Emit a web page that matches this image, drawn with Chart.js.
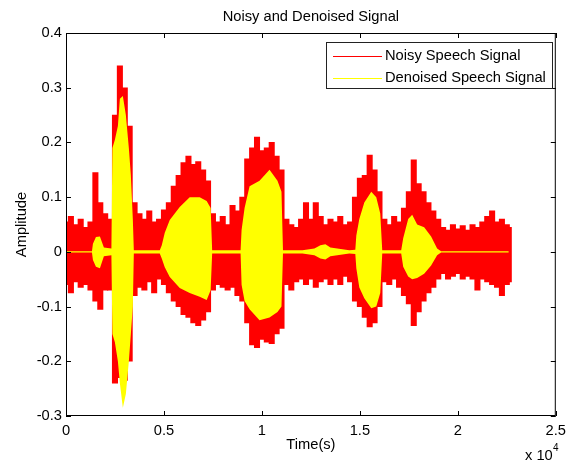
<!DOCTYPE html>
<html lang="en">
<head>
<meta charset="UTF-8">
<title>Noisy and Denoised Signal</title>
<script src="https://cdn.jsdelivr.net/npm/chart.js@4.4.0/dist/chart.umd.min.js"></script>
<style>
    html, body { margin: 0; padding: 0; background: #fff; }
    #wrap { width: 572px; height: 464px; }
</style>
</head>
<body>
<div id="wrap"><canvas id="myChart" width="572" height="464"></canvas></div>

<script>
// noisy speech: one column every 250 samples, last one = end of signal
var noisyIdx = [
    0, 250, 500, 750, 1000, 1250, 1500, 1750, 2000, 2250,
    2500, 2750, 3000, 3250, 3500, 3750, 4000, 4250, 4500, 4750,
    5000, 5250, 5500, 5750, 6000, 6250, 6500, 6750, 7000, 7250,
    7500, 7750, 8000, 8250, 8500, 8750, 9000, 9250, 9500, 9750,
    10000, 10250, 10500, 10750, 11000, 11250, 11500, 11750, 12000, 12250,
    12500, 12750, 13000, 13250, 13500, 13750, 14000, 14250, 14500, 14750,
    15000, 15250, 15500, 15750, 16000, 16250, 16500, 16750, 17000, 17250,
    17500, 17750, 18000, 18250, 18500, 18750, 19000, 19250, 19500, 19750,
    20000, 20250, 20500, 20750, 21000, 21250, 21500, 21750, 22000, 22250,
    22500, 22600
];
// upper / lower envelope
var noisyHigh = [
    0.055, 0.065, 0.05, 0.06, 0.045, 0.055, 0.145, 0.09, 0.07, 0.06,
    0.25, 0.34, 0.30, 0.23, 0.09, 0.07, 0.06, 0.075, 0.055, 0.06,
    0.077, 0.09, 0.12, 0.14, 0.163, 0.175, 0.16, 0.165, 0.15, 0.13,
    0.07, 0.055, 0.065, 0.05, 0.085, 0.075, 0.1, 0.17, 0.19, 0.21,
    0.185, 0.19, 0.2, 0.175, 0.15, 0.06, 0.05, 0.045, 0.06, 0.09,
    0.06, 0.09, 0.065, 0.05, 0.06, 0.055, 0.065, 0.05, 0.055, 0.1,
    0.135, 0.14, 0.177, 0.15, 0.11, 0.06, 0.05, 0.065, 0.055, 0.08,
    0.11, 0.168, 0.125, 0.11, 0.09, 0.075, 0.06, 0.045, 0.04, 0.05,
    0.042, 0.048, 0.04, 0.05, 0.045, 0.055, 0.065, 0.075, 0.055, 0.06,
    0.05, 0.045
];
var noisyLow = [
    -0.06, -0.075, -0.055, -0.065, -0.06, -0.07, -0.09, -0.105, -0.07, -0.07,
    -0.24, -0.23, -0.235, -0.2, -0.08, -0.065, -0.07, -0.055, -0.075, -0.05,
    -0.06, -0.075, -0.09, -0.1, -0.115, -0.12, -0.13, -0.135, -0.125, -0.11,
    -0.07, -0.06, -0.065, -0.07, -0.065, -0.08, -0.09, -0.13, -0.17, -0.175,
    -0.16, -0.165, -0.168, -0.15, -0.14, -0.06, -0.07, -0.055, -0.05, -0.06,
    -0.05, -0.065, -0.055, -0.05, -0.06, -0.05, -0.06, -0.045, -0.055, -0.09,
    -0.1, -0.12, -0.137, -0.13, -0.1, -0.055, -0.06, -0.05, -0.065, -0.08,
    -0.095, -0.135, -0.11, -0.09, -0.075, -0.065, -0.05, -0.04, -0.05, -0.045,
    -0.04, -0.05, -0.045, -0.05, -0.07, -0.05, -0.055, -0.06, -0.065, -0.08,
    -0.06, -0.055
];

// denoised speech: envelope points, denser where the bursts start and stop
var denoisedIdx = [
    0, 1324, 1375, 1528, 1731, 1935, 2317, 2368, 2495, 2648,
    2750, 2902, 3055, 3208, 3310, 3411, 3462, 4786, 4888, 5041,
    5296, 5805, 6314, 6823, 7180, 7383, 7460, 8911, 8962, 9115,
    9370, 9879, 10388, 10795, 10999, 11075, 12068, 12679, 12985, 13240,
    13494, 14461, 14767, 14818, 14971, 15226, 15582, 15837, 16040, 16142,
    17109, 17211, 17466, 17670, 17924, 18281, 18637, 18943, 19146, 22600
];
var denoisedHigh = [
    0.001, 0.001, 0.015, 0.027, 0.028, 0.008, 0.006, 0.19, 0.205, 0.23,
    0.28, 0.285, 0.25, 0.19, 0.14, 0.06, 0.003, 0.003, 0.012, 0.035,
    0.058, 0.082, 0.1, 0.1, 0.093, 0.08, 0.003, 0.003, 0.04, 0.08,
    0.12, 0.13, 0.15, 0.13, 0.11, 0.003, 0.003, 0.006, 0.012, 0.014,
    0.008, 0.003, 0.004, 0.03, 0.06, 0.09, 0.11, 0.1, 0.07, 0.003,
    0.003, 0.025, 0.06, 0.068, 0.05, 0.045, 0.028, 0.006, 0.001, 0.001
];
var denoisedLow = [
    -0.001, -0.001, -0.015, -0.027, -0.03, -0.008, -0.006, -0.15, -0.165, -0.2,
    -0.24, -0.285, -0.26, -0.2, -0.15, -0.1, -0.003, -0.003, -0.012, -0.028,
    -0.046, -0.066, -0.075, -0.082, -0.088, -0.07, -0.003, -0.003, -0.06, -0.09,
    -0.105, -0.125, -0.12, -0.11, -0.1, -0.003, -0.003, -0.006, -0.012, -0.014,
    -0.008, -0.003, -0.004, -0.03, -0.065, -0.085, -0.103, -0.1, -0.075, -0.003,
    -0.003, -0.027, -0.045, -0.05, -0.048, -0.04, -0.025, -0.006, -0.001, -0.001
];

var xTicks = [0, 5000, 10000, 15000, 20000, 25000];
var yTicks = [-0.3, -0.2, -0.1, 0, 0.1, 0.2, 0.3, 0.4];
var seriesNames = ['Noisy Speech Signal', 'Denoised Speech Signal'];
var seriesColors = ['#ff0000', '#ffff00'];

var fontFam = "'Liberation Sans', Arial, sans-serif";
var fontSize = 14.7;

function pts(idx, vals) {
    return idx.map(function (s, i) { return {x: s, y: vals[i]}; });
}

// frame, inward ticks, title, exponent label and legend box (matlab style)
var matlabAxes = {
    id: 'matlabAxes',
    afterDatasetsDraw: function (chart) {
        var c = chart.ctx, a = chart.chartArea;
        var xs = chart.scales.x, ys = chart.scales.y;
        c.save();
        c.strokeStyle = '#000';
        c.lineWidth = 1;
        c.strokeRect(a.left + 0.5, a.top + 0.5, a.right - a.left - 1, a.bottom - a.top - 1);
        c.beginPath();
        xTicks.forEach(function (v) {
            var px = Math.round(xs.getPixelForValue(v)) + 0.5;
            c.moveTo(px, a.bottom); c.lineTo(px, a.bottom - 5);
            c.moveTo(px, a.top); c.lineTo(px, a.top + 5);
        });
        yTicks.forEach(function (v) {
            var py = Math.round(ys.getPixelForValue(v)) + 0.5;
            c.moveTo(a.left, py); c.lineTo(a.left + 5, py);
            c.moveTo(a.right, py); c.lineTo(a.right - 5, py);
        });
        c.stroke();

        // title
        c.fillStyle = '#000';
        c.font = fontSize + 'px ' + fontFam;
        c.textAlign = 'center';
        c.textBaseline = 'middle';
        c.fillText('Noisy and Denoised Signal', (a.left + a.right) / 2, 17);

        // x 10^4
        c.textAlign = 'left';
        c.fillText('x 10', 525, 456);
        c.font = '10px ' + fontFam;
        c.fillText('4', 553, 448);

        // legend
        var lx = 326, ly = 42, lw = 226, lh = 46;
        c.fillStyle = '#fff';
        c.fillRect(lx, ly, lw, lh);
        c.strokeStyle = '#222';
        c.strokeRect(lx + 0.5, ly + 0.5, lw, lh);
        c.font = fontSize + 'px ' + fontFam;
        c.textBaseline = 'middle';
        seriesNames.forEach(function (name, i) {
            var yy = 56 + i * 22;
            c.strokeStyle = seriesColors[i];
            c.beginPath();
            c.moveTo(333, yy + 0.5); c.lineTo(382, yy + 0.5);
            c.stroke();
            c.fillStyle = '#000';
            c.fillText(name, 385, yy);
        });
        c.restore();
    }
};

var ctx = document.getElementById('myChart').getContext('2d');
var myChart = new Chart(ctx, {
    type: 'line',
    data: {
        datasets: [{
            // noisy signal: one floating bar per column, low..high
            type: 'bar',
            label: seriesNames[0],
            data: noisyIdx.map(function (s, i) { return {x: s, y: [noisyLow[i], noisyHigh[i]]}; }),
            backgroundColor: seriesColors[0],
            borderWidth: 0,
            barThickness: 5.4,
            order: 2
        }, {
            label: seriesNames[1],
            data: pts(denoisedIdx, denoisedHigh),
            borderColor: seriesColors[1],
            backgroundColor: seriesColors[1],
            borderWidth: 0,
            fill: 2,
            order: 1
        }, {
            label: seriesNames[1] + ' (low)',
            data: pts(denoisedIdx, denoisedLow),
            borderColor: seriesColors[1],
            borderWidth: 0,
            fill: false,
            order: 1
        }]
    },
    options: {
        responsive: false,
        animation: false,
        elements: { point: { radius: 0 }, line: { tension: 0 } },
        layout: { padding: { left: 0, right: 14, top: 33, bottom: 0 } },
        plugins: {
            legend: { display: false },
            tooltip: { enabled: false }
        },
        scales: {
            x: {
                type: 'linear',
                min: 0,
                max: 25000,
                offset: false,
                grid: { display: false, drawTicks: false },
                border: { display: false },
                afterBuildTicks: function (s) { s.ticks = xTicks.map(function (v) { return {value: v}; }); },
                ticks: {
                    color: '#000',
                    padding: 6,
                    maxRotation: 0,
                    autoSkip: false,
                    font: { family: fontFam, size: fontSize },
                    callback: function (v) { return String(v / 10000); }
                },
                title: {
                    display: true,
                    text: 'Time(s)',
                    color: '#000',
                    font: { family: fontFam, size: fontSize },
                    padding: { top: 0, bottom: 10 }
                },
                afterFit: function (s) { s.height = 48; }
            },
            y: {
                min: -0.3,
                max: 0.4,
                grid: { display: false, drawTicks: false },
                border: { display: false },
                afterBuildTicks: function (s) { s.ticks = yTicks.map(function (v) { return {value: v}; }); },
                ticks: {
                    color: '#000',
                    padding: 4,
                    autoSkip: false,
                    font: { family: fontFam, size: fontSize },
                    callback: function (v) { return String(Math.round(v * 10) / 10); }
                },
                title: {
                    display: true,
                    text: 'Amplitude',
                    color: '#000',
                    font: { family: fontFam, size: fontSize },
                    padding: { top: 13, bottom: 0 }
                },
                afterFit: function (s) { s.width = 66; }
            }
        }
    },
    plugins: [matlabAxes]
});
</script>
</body>
</html>
